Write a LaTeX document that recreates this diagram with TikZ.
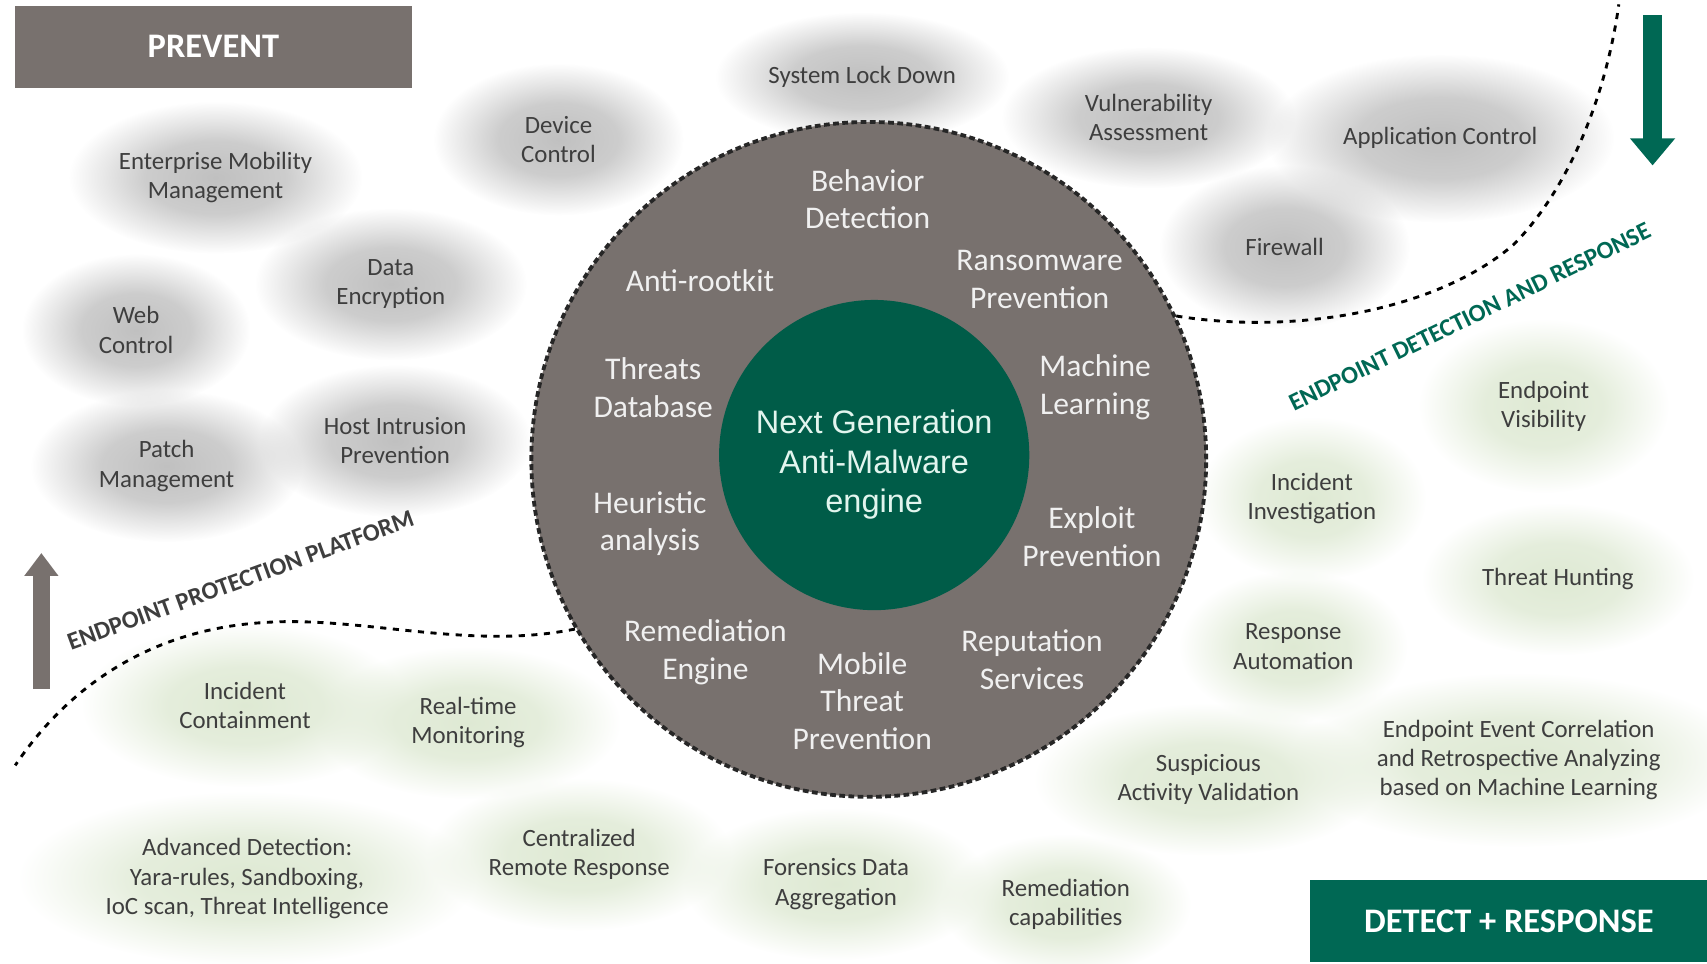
\documentclass[tikz,border=0pt]{standalone}
\usepackage{fontspec}
\setmainfont{Carlito}
\newfontfamily\arialfont{Liberation Sans}
\usetikzlibrary{arrows.meta, fadings, backgrounds}

\definecolor{ringgray}{RGB}{120,113,110}
\definecolor{coregreen}{RGB}{0,92,72}
\definecolor{edrgreen}{RGB}{0,104,84}
\definecolor{txtgray}{RGB}{62,62,62}
\definecolor{mint}{RGB}{226,245,238}
\definecolor{blobgray}{RGB}{192,192,192}
\definecolor{blobgreen}{RGB}{222,233,211}

\pgfdeclareradialshading{blobshade}{\pgfpointorigin}{color(0bp)=(white); color(12bp)=(white!80!black); color(25bp)=(black); color(50bp)=(black)}
\pgfdeclarefading{blobfade}{\pgfuseshading{blobshade}}

\begin{document}
\begin{tikzpicture}[x=0.02cm, y=-0.02cm,
    band/.style={minimum width=7.3cm, minimum height=1.5cm, inner sep=0pt,
                 text=white, font=\fontsize{18}{21}\selectfont\bfseries},
    item/.style={align=center, text=txtgray, font=\fontsize{13}{15.3}\selectfont},
    ringtxt/.style={align=center, text=white!94!black, font=\fontsize{16.5}{19.8}\selectfont},
    gblob/.style={fill=blobgray, path fading=blobfade},
    eblob/.style={fill=blobgreen, path fading=blobfade},
    bound/.style={line width=1.5pt, dash pattern=on 3.2pt off 3.4pt},
    platlabel/.style={font=\fontsize{13}{15}\selectfont\bfseries},
  ]
  \useasboundingbox (0,0) rectangle (1568,885);

  % headers
  \node[band, fill=ringgray] (prevent) at (196,43) {PREVENT};
  \node[band, fill=edrgreen] (detect) at (1386,846) {DETECT + RESPONSE};

  % engine
  \node[circle, minimum size=12.4cm, inner sep=0pt, fill=ringgray, draw=black!85,
        line width=2pt, dash pattern=on 3pt off 1.8pt] (ring) at (798,422) {};
  \node[circle, minimum size=5.7cm, inner sep=0pt, fill=coregreen] (core) at (803,418) {};
  \node[align=center, text=mint, font=\arialfont\fontsize{17}{20.7}\selectfont]
    (coretxt) at (803,427) {Next Generation\\Anti-Malware\\engine};
  \node[ringtxt] (beh) at (797,183) {Behavior\\Detection};
  \node[ringtxt] (rootkit) at (643,258) {Anti-rootkit};
  \node[ringtxt] (ransom) at (955,257) {Ransomware\\Prevention};
  \node[ringtxt] (tdb) at (600,356) {Threats\\Database};
  \node[ringtxt] (ml) at (1006,356) {Machine\\Learning};
  \node[ringtxt] (heur) at (597,481) {Heuristic\\analysis};
  \node[ringtxt] (expl) at (1003,493) {Exploit\\Prevention};
  \node[ringtxt] (reme) at (648,599) {Remediation\\Engine};
  \node[ringtxt] (mtp) at (792,644) {Mobile\\Threat\\Prevention};
  \node[ringtxt] (rep) at (948,606) {Reputation\\Services};

  % prevent side
  \node[item] (lock) at (792,71) {System Lock Down};
  \node[item] (dev) at (513,128) {Device\\Control};
  \node[item] (vuln) at (1055,108) {Vulnerability\\Assessment};
  \node[item] (app) at (1323,127) {Application Control};
  \node[item] (emm) at (198,163) {Enterprise Mobility\\Management};
  \node[item] (enc) at (359,261) {Data\\Encryption};
  \node[item] (web) at (125,303) {Web\\Control};
  \node[item] (hips) at (363,405) {Host Intrusion\\Prevention};
  \node[item] (patch) at (153,428) {Patch\\Management};
  \node[item] (fw) at (1180,227) {Firewall};

  % detect side
  \node[item] (vis) at (1418,373) {Endpoint\\Visibility};
  \node[item] (inv) at (1205,458) {Incident\\Investigation};
  \node[item] (hunt) at (1431,532) {Threat Hunting};
  \node[item] (auto) at (1188,594) {Response\\Automation};
  \node[item] (cont) at (225,648) {Incident\\Containment};
  \node[item] (rtm) at (430,664) {Real-time\\Monitoring};
  \node[item] (corr) at (1395,698) {Endpoint Event Correlation\\and Retrospective Analyzing\\based on Machine Learning};
  \node[item] (susp) at (1110,716) {Suspicious\\Activity Validation};
  \node[item] (adv) at (227,807) {Advanced Detection:\\Yara-rules, Sandboxing,\\IoC scan, Threat Intelligence};
  \node[item] (crr) at (532,785) {Centralized\\Remote Response};
  \node[item] (fda) at (768,812) {Forensics Data\\Aggregation};
  \node[item] (remc) at (979,831) {Remediation\\capabilities};

  % soft clouds
  \begin{scope}[on background layer]
    \foreach \n/\rx/\ry in {lock/2.7/1.2, dev/2.3/1.4, vuln/2.7/1.3, app/3.2/1.55,
                            emm/2.7/1.4, enc/2.5/1.4, web/2.1/1.4, hips/2.5/1.4,
                            patch/2.5/1.4, fw/2.3/1.5}
      \fill[gblob] (\n) ellipse [x radius=\rx cm, y radius=\ry cm];
    \foreach \n/\rx/\ry in {vis/2.3/1.6, inv/2.1/1.5, hunt/2.5/1.4, auto/2.1/1.4,
                            cont/3.0/1.5, rtm/2.8/1.4, corr/4.2/1.6, susp/3.2/1.4,
                            adv/4.2/1.6, crr/2.8/1.4, fda/2.8/1.4, remc/2.3/1.3}
      \fill[eblob] (\n) ellipse [x radius=\rx cm, y radius=\ry cm];
  \end{scope}

  % boundaries
  \coordinate (eppend) at (14,703);
  \coordinate (edrend) at (1487,4);
  \draw[bound] (ring.210) .. controls (430,598) and (330,565) .. (240,572)
    .. controls (150,578) and (70,620) .. (eppend);
  \draw[bound] (ring.25) .. controls (1190,308) and (1320,285) .. (1390,225)
    .. controls (1440,175) and (1475,90) .. (edrend);
  \node[platlabel, text=txtgray, rotate=20] (epp) at (221,533) {ENDPOINT PROTECTION PLATFORM};
  \node[platlabel, text=edrgreen, rotate=26] (edr) at (1350,291) {ENDPOINT DETECTION AND RESPONSE};

  % direction arrows
  \coordinate (upfoot) at (38,633);
  \coordinate (uptip) at (38,508);
  \coordinate (downtop) at (1518,14);
  \coordinate (downtip) at (1518,152);
  \draw[ringgray, line width=0.32cm, -{Triangle[width=0.6cm, length=0.42cm]}] (upfoot) -- (uptip);
  \draw[edrgreen, line width=0.36cm, -{Triangle[width=0.8cm, length=0.5cm]}] (downtop) -- (downtip);
\end{tikzpicture}
\end{document}
